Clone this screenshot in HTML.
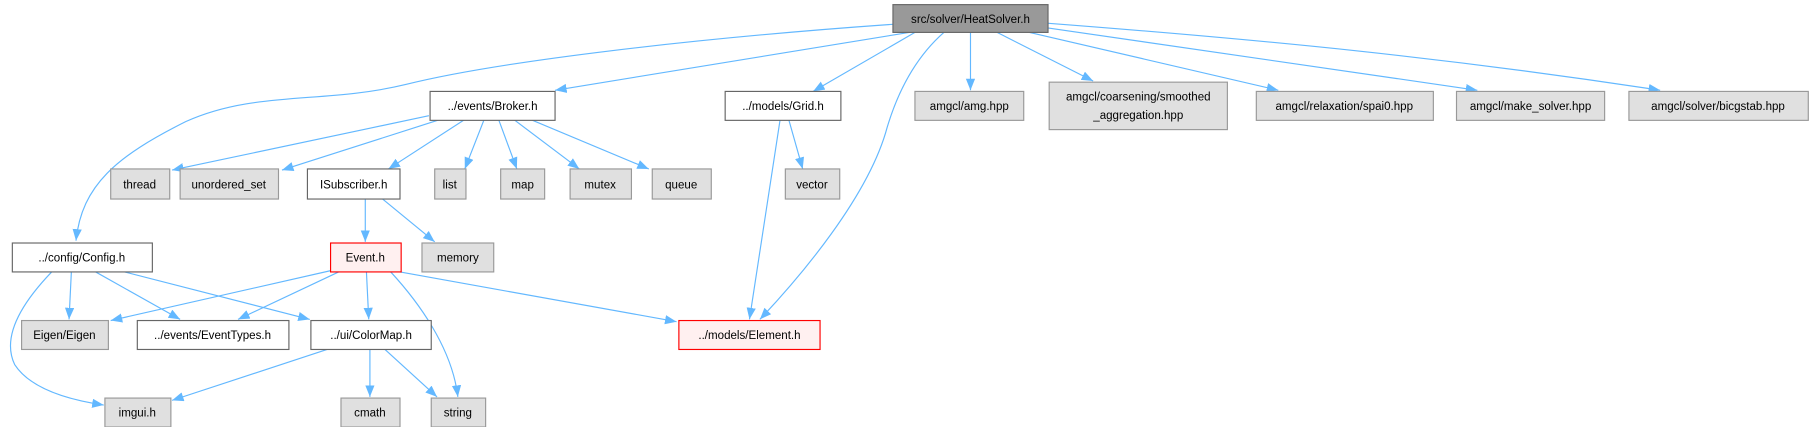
<!DOCTYPE html>
<html><head><meta charset="utf-8"><style>html,body{margin:0;padding:0;background:#fff}svg{display:block}</style></head>
<body>
<svg width="1816" height="427" viewBox="0 0 1568 369" xmlns="http://www.w3.org/2000/svg" font-family="'Liberation Sans',sans-serif" font-size="10">
<defs><marker id="a" markerUnits="userSpaceOnUse" markerWidth="12" markerHeight="10" refX="10" refY="4" orient="auto"><path d="M0,0 L10,4 L0,8 z" fill="#63b8ff"/></marker></defs>
<g fill="none" stroke="#63b8ff" stroke-width="1" marker-end="url(#a)">
<path d="M771,21 C600,33 430,53 350,73 C280,90 220,78 160,105 C100,135 70,160 65,208"/>
<path d="M785,28 L479,78"/>
<path d="M790,28 L702,79"/>
<path d="M815,28 C790,50 775,80 766,110 C750,170 690,240 656,276"/>
<path d="M838,28 L838,78"/>
<path d="M861,28 L944,70"/>
<path d="M889,28 L1104,78"/>
<path d="M904,24 L1276,78"/>
<path d="M904,20 C1100,35 1250,50 1434,78"/>
<path d="M370,100 L148,147"/>
<path d="M390,100 L243,147"/>
<path d="M406,100 L335,146"/>
<path d="M419,100 L401,146"/>
<path d="M429,100 L446,146"/>
<path d="M439,100 L500,146"/>
<path d="M450,100 L560,146"/>
<path d="M680,100 L693,146"/>
<path d="M674,100 L647,276"/>
<path d="M315,172 L315,209"/>
<path d="M330,172 L375,209"/>
<path d="M61,235 L59,276"/>
<path d="M82,235 L155,276"/>
<path d="M107,235 L267,276"/>
<path d="M44,235 C20,260 0,290 12,315 C25,335 55,345 89,350"/>
<path d="M289,233 L95,277"/>
<path d="M292,235 L205,276"/>
<path d="M316,235 L318,276"/>
<path d="M345,235 L584,278"/>
<path d="M337,235 C360,260 390,300 395,343"/>
<path d="M282,302 L148,346"/>
<path d="M319,302 L319,343"/>
<path d="M332,302 L377,343"/>
</g>
<g stroke-width="1">
<rect x="771" y="4" width="134" height="24" fill="#999" stroke="#666"/>
<g fill="#fff" stroke="#666">
<rect x="371" y="79" width="108" height="25"/><rect x="626" y="79" width="100" height="25"/>
<rect x="265" y="146" width="80" height="26"/><rect x="10" y="210" width="121" height="25"/>
<rect x="118" y="277" width="131" height="25"/><rect x="268" y="277" width="104" height="25"/>
</g>
<g fill="#fff0f0" stroke="#f00">
<rect x="285" y="210" width="61" height="25"/><rect x="586" y="277" width="122" height="25"/>
</g>
<g fill="#e0e0e0" stroke="#999">
<rect x="790" y="79" width="94" height="25"/><rect x="906" y="71" width="154" height="41"/>
<rect x="1085" y="79" width="153" height="25"/><rect x="1258" y="79" width="128" height="25"/>
<rect x="1407" y="79" width="155" height="25"/>
<rect x="95" y="146" width="51" height="26"/><rect x="155" y="146" width="85" height="26"/>
<rect x="375" y="146" width="27" height="26"/><rect x="432" y="146" width="38" height="26"/>
<rect x="492" y="146" width="53" height="26"/><rect x="563" y="146" width="51" height="26"/>
<rect x="678" y="146" width="47" height="26"/><rect x="364" y="210" width="62" height="25"/>
<rect x="18" y="277" width="75" height="25"/>
<rect x="90" y="344" width="57" height="25"/><rect x="294" y="344" width="51" height="25"/>
<rect x="372" y="344" width="47" height="25"/>
</g>
</g>
<g fill="#000" text-anchor="middle">
<text x="838" y="20">src/solver/HeatSolver.h</text>
<text x="425" y="95">../events/Broker.h</text>
<text x="676" y="95">../models/Grid.h</text>
<text x="837" y="95">amgcl/amg.hpp</text>
<text x="983" y="87">amgcl/coarsening/smoothed</text>
<text x="983" y="103">_aggregation.hpp</text>
<text x="1161" y="95">amgcl/relaxation/spai0.hpp</text>
<text x="1322" y="95">amgcl/make_solver.hpp</text>
<text x="1484" y="95">amgcl/solver/bicgstab.hpp</text>
<text x="120" y="163">thread</text>
<text x="197" y="163">unordered_set</text>
<text x="305" y="163">ISubscriber.h</text>
<text x="388" y="163">list</text>
<text x="451" y="163">map</text>
<text x="518" y="163">mutex</text>
<text x="588" y="163">queue</text>
<text x="701" y="163">vector</text>
<text x="70" y="226">../config/Config.h</text>
<text x="315" y="226">Event.h</text>
<text x="395" y="226">memory</text>
<text x="55" y="293">Eigen/Eigen</text>
<text x="183" y="293">../events/EventTypes.h</text>
<text x="320" y="293">../ui/ColorMap.h</text>
<text x="647" y="293">../models/Element.h</text>
<text x="118" y="360">imgui.h</text>
<text x="319" y="360">cmath</text>
<text x="395" y="360">string</text>
</g>
</svg>
</body></html>
